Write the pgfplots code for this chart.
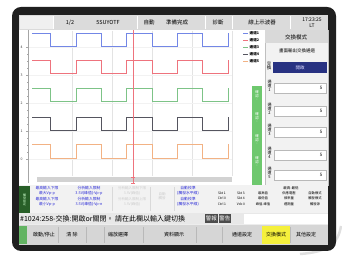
\documentclass[border=0pt]{standalone}
\usepackage{pgfplots}
\pgfplotsset{compat=1.18}
\usepackage{fontspec}
\setmainfont{Noto Sans CJK TC}
\definecolor{wblue}{RGB}{115,135,230}
\definecolor{wred}{RGB}{238,115,125}
\definecolor{wgreen}{RGB}{125,195,135}
\definecolor{wblack}{RGB}{85,85,95}
\definecolor{worange}{RGB}{242,178,132}
\definecolor{uiblue}{RGB}{45,45,215}
\definecolor{navy}{RGB}{40,50,130}
\definecolor{dgreen}{RGB}{40,95,40}
\definecolor{lgreen}{RGB}{110,200,110}
\definecolor{ybtn}{RGB}{245,240,60}
\newcommand{\fs}[1]{\fontsize{#1}{#1}\selectfont}
\begin{document}
\begin{tikzpicture}[x=1pt,y=1pt]
\path[use as bounding box] (0,0) rectangle (342,256);
\fill[white] (0,0) rectangle (342,256);
\begin{scope}[yshift=256pt,yscale=-1]
 % sheen outside frame
 \draw[gray!25, line width=2.5pt] (300,254) .. controls (328,252) and (338,244) .. (341,226);
 % frame
 \fill[black!88, rounded corners=9pt] (12,7) rectangle (336,251);
 % screen
 \fill[gray!14] (19,15) rectangle (328,245);
 % top bar
 \fill[gray!28] (19,15) rectangle (328,30);
 \fill[gray!12] (20,16) rectangle (53,29);
 \foreach \xx in {53,137,205,232,290} \draw[white, line width=0.6pt] (\xx,16)--(\xx,29);
 \node[font=\fs{5.5}] at (70,22.5) {1/2};
 \node[font=\fs{5.5}] at (108,22.5) {5SUYOTF};
 \node[font=\fs{5.5}] at (149,22.5) {自動};
 \node[font=\fs{5.5}] at (177,22.5) {準備完成};
 \node[font=\fs{5.5}] at (218,22.5) {診斷};
 \node[font=\fs{5.5}] at (262,22.5) {線上示波器};
 \node[font=\fs{5}] at (312,19.5) {17:23:25};
 \node[font=\fs{5}] at (312,26) {LT};
 % plot region
 \fill[white] (19,30) rectangle (265,185);
 \foreach \xx in {72,112,152,192,232} \draw[gray!22, line width=0.3pt] (\xx,31)--(\xx,176);
 \foreach \yy in {47,75,103,131,159} \draw[gray!10, line width=0.3pt] (29,\yy)--(232,\yy);
 % scroll bar
 \fill[gray!35] (37,177) rectangle (232,182);
 % legend
 \foreach \yy/\cc/\nn in {33/wblue/1,40/wred/2,47/wgreen/3,54/wblack/4,61/worange/5}{
   \draw[\cc, line width=0.6pt] (243,\yy)--(248,\yy);
   \node[font=\fs{3.6}\bfseries, anchor=west, inner sep=0pt] at (249.5,\yy) {通道\nn};
 }
 % green strip
 \fill[lgreen] (252,86) rectangle (262,186);
 \foreach \yy in {96,118,140,162} \node[font=\fs{3.5}, text=white, align=center, inner sep=0pt] at (257,\yy) {確\\認\\-};
 % right panel
 \fill[gray!10] (265,30) rectangle (328,185);
 \draw[gray!50, line width=0.4pt] (265,30) rectangle (328,185);
 \fill[gray!30] (265,30) rectangle (328,43);
 \node[font=\fs{5.5}] at (296,37) {交換模式};
 \node[font=\fs{4.5}] at (297,50.5) {畫面輸出交換通道};
 \node[font=\fs{4.5}, align=center, inner sep=0pt] at (269,66) {交\\換};
 \fill[navy] (273,62) rectangle (327,73);
 \node[font=\fs{4.5}, text=white!85!blue] at (300,67.5) {開啟};
 \foreach \ya/\yb/\nn in {83/93/1,106/116/2,127/137/3,150/160/4,170/180/5}{
   \fill[white] (274,\ya) rectangle (326,\yb);
   \draw[gray!55, line width=0.4pt] (274,\ya) rectangle (326,\yb);
   \node[font=\fs{4.5}, anchor=east] at (326,{(\ya+\yb)/2}) {5};
   \node[font=\fs{4}, align=center, inner sep=0pt] at (269.5,{(\ya+\yb)/2-2}) {通\\道\\\nn};
 }
 % bottom info panel
 \fill[gray!10] (19,185) rectangle (328,213);
 \fill[dgreen] (19,186) rectangle (30,213);
 \node[font=\fs{3}, text=white!80!green, align=center, inner sep=0pt] at (24.5,199.5) {觸\\發\\設\\定};
 \foreach \yy/\tt in {188.5/最高輸入下限, 193/最大Vp-p, 199.5/最高輸入下限, 204/最小Vp-p}
   \node[font=\fs{3.8}, text=uiblue] at (47,\yy) {\tt};
 \foreach \yy/\tt in {188.5/分析輸入限制, 193/3.5V(峰值)-Vp-p, 199.5/分析輸入限制, 204/3.5V(峰值)-Vp-n}
   \node[font=\fs{3.8}, text=uiblue] at (89,\yy) {\tt};
 \foreach \yy/\tt in {188.5/分析輸入限制下限, 193/3.5V(峰值), 199.5/分析輸入限制上限, 204/3.5V(峰值)}
   \node[font=\fs{3.5}, text=gray!40] at (132,\yy) {\tt};
 \node[font=\fs{3.5}, text=gray!40, align=center] at (162,196) {自動\\觸發};
 \draw[gray!30, line width=0.3pt] (112,187)--(112,211) (150,187)--(150,211) (174,187)--(174,211);
 \foreach \yy/\tt in {188.5/自動校準, 193/(觸發水平線), 199.5/自動校準, 204/(觸發水平線)}
   \node[font=\fs{3.8}, text=uiblue] at (188,\yy) {\tt};
 \node[font=\fs{3.5}] at (291,188) {最高-最低};
 \foreach \yy/\ta/\tb/\tc/\td/\te in {193/Skt 1/Skt 3/最高值/供應電壓/自動模式, 198.5/Ctrl 0/Skt 4/最低值/頻率量/觸發模式, 204/Ctrl 1/Vdc 0/峰值-峰值/週期量/觸發源}{
   \node[font=\fs{3.3}] at (222,\yy) {\ta};
   \node[font=\fs{3.3}] at (241,\yy) {\tb};
   \node[font=\fs{3.3}] at (263,\yy) {\tc};
   \node[font=\fs{3.3}] at (289,\yy) {\td};
   \node[font=\fs{3.3}] at (315,\yy) {\te};
 }
 % message line
 \fill[gray!18] (19,213) rectangle (328,224.5);
 \node[font=\fs{7}, anchor=west, inner sep=0pt] at (20,218.8) {\#1024:258-交換:開啟or關閉。 請在此欄以輸入鍵切換};
 \fill[black!70] (205,214) rectangle (217.5,223.5);
 \fill[black!70] (218.5,214) rectangle (231,223.5);
 \node[font=\fs{5.5}, text=white] at (211.3,218.8) {警報};
 \node[font=\fs{5.5}, text=white] at (224.8,218.8) {警告};
 \fill[white] (244,214) rectangle (328,224);
 % function bar
 \fill[gray!32] (19,225) rectangle (328,245);
 \fill[lgreen!90!black] (19,226) rectangle (27,244);
 \foreach \xx in {58,86,104,143,196,222,262,290} \draw[gray!55, line width=0.4pt] (\xx,227)--(\xx,243);
 \fill[ybtn] (262,226) rectangle (290,244);
 \node[font=\fs{5}] at (44,235) {啟動/停止};
 \node[font=\fs{5}] at (72,235) {清\ 除};
 \node[font=\fs{5}] at (118,235) {縮放選擇};
 \node[font=\fs{5}] at (174,235) {資料顯示};
 \node[font=\fs{5}] at (242,235) {通道設定};
 \node[font=\fs{5}] at (276,235) {交換模式};
 \node[font=\fs{5}] at (306,235) {其他設定};
\end{scope}
\begin{axis}[
 at={(28pt,73pt)}, anchor=south west,
 scale only axis, width=207pt, height=153pt,
 xmin=28, xmax=235, ymin=0, ymax=153,
 axis x line=none, axis y line*=left,
 y axis line style={gray!70, line width=0.5pt},
 ytick={24,52,80,108,136}, yticklabels={0,1,2,3,4},
 minor y tick num=3,
 tick align=outside, major tick length=2pt, minor tick length=1pt,
 every tick/.style={gray!70, line width=0.4pt},
 yticklabel style={font=\fontsize{3.5}{4}\selectfont, text=gray!50!black},
 clip=false,
 every axis plot/.append style={const plot, line width=0.75pt, no markers},
]
\addplot[wblue] coordinates {(32,150)(50,137)(76,150)(101,137)(126,150)(152,137)(177,150)(202,137)(228,150)(229,150)};
\addplot[wred] coordinates {(32,123)(50,110)(76,123)(101,110)(126,123)(152,110)(177,123)(202,110)(228,123)(229,123)};
\addplot[wgreen] coordinates {(32,95)(50,82)(76,95)(101,82)(126,95)(152,82)(177,95)(202,82)(228,95)(229,95)};
\addplot[wblack] coordinates {(32,66)(50,53)(76,66)(101,53)(126,66)(152,53)(177,66)(202,53)(228,66)(229,66)};
\addplot[worange] coordinates {(32,39)(50,25)(76,39)(101,25)(126,39)(152,25)(177,39)(202,25)(228,39)(229,39)};
\addplot[wred, line width=0.6pt] coordinates {(133,0)(133,153)};
\end{axis}
\begin{scope}[yshift=256pt,yscale=-1]
 \draw[wred, line width=0.7pt] (131,177)--(135,177) (131,183)--(135,183) (133,177)--(133,183);
\end{scope}
\end{tikzpicture}
\end{document}
